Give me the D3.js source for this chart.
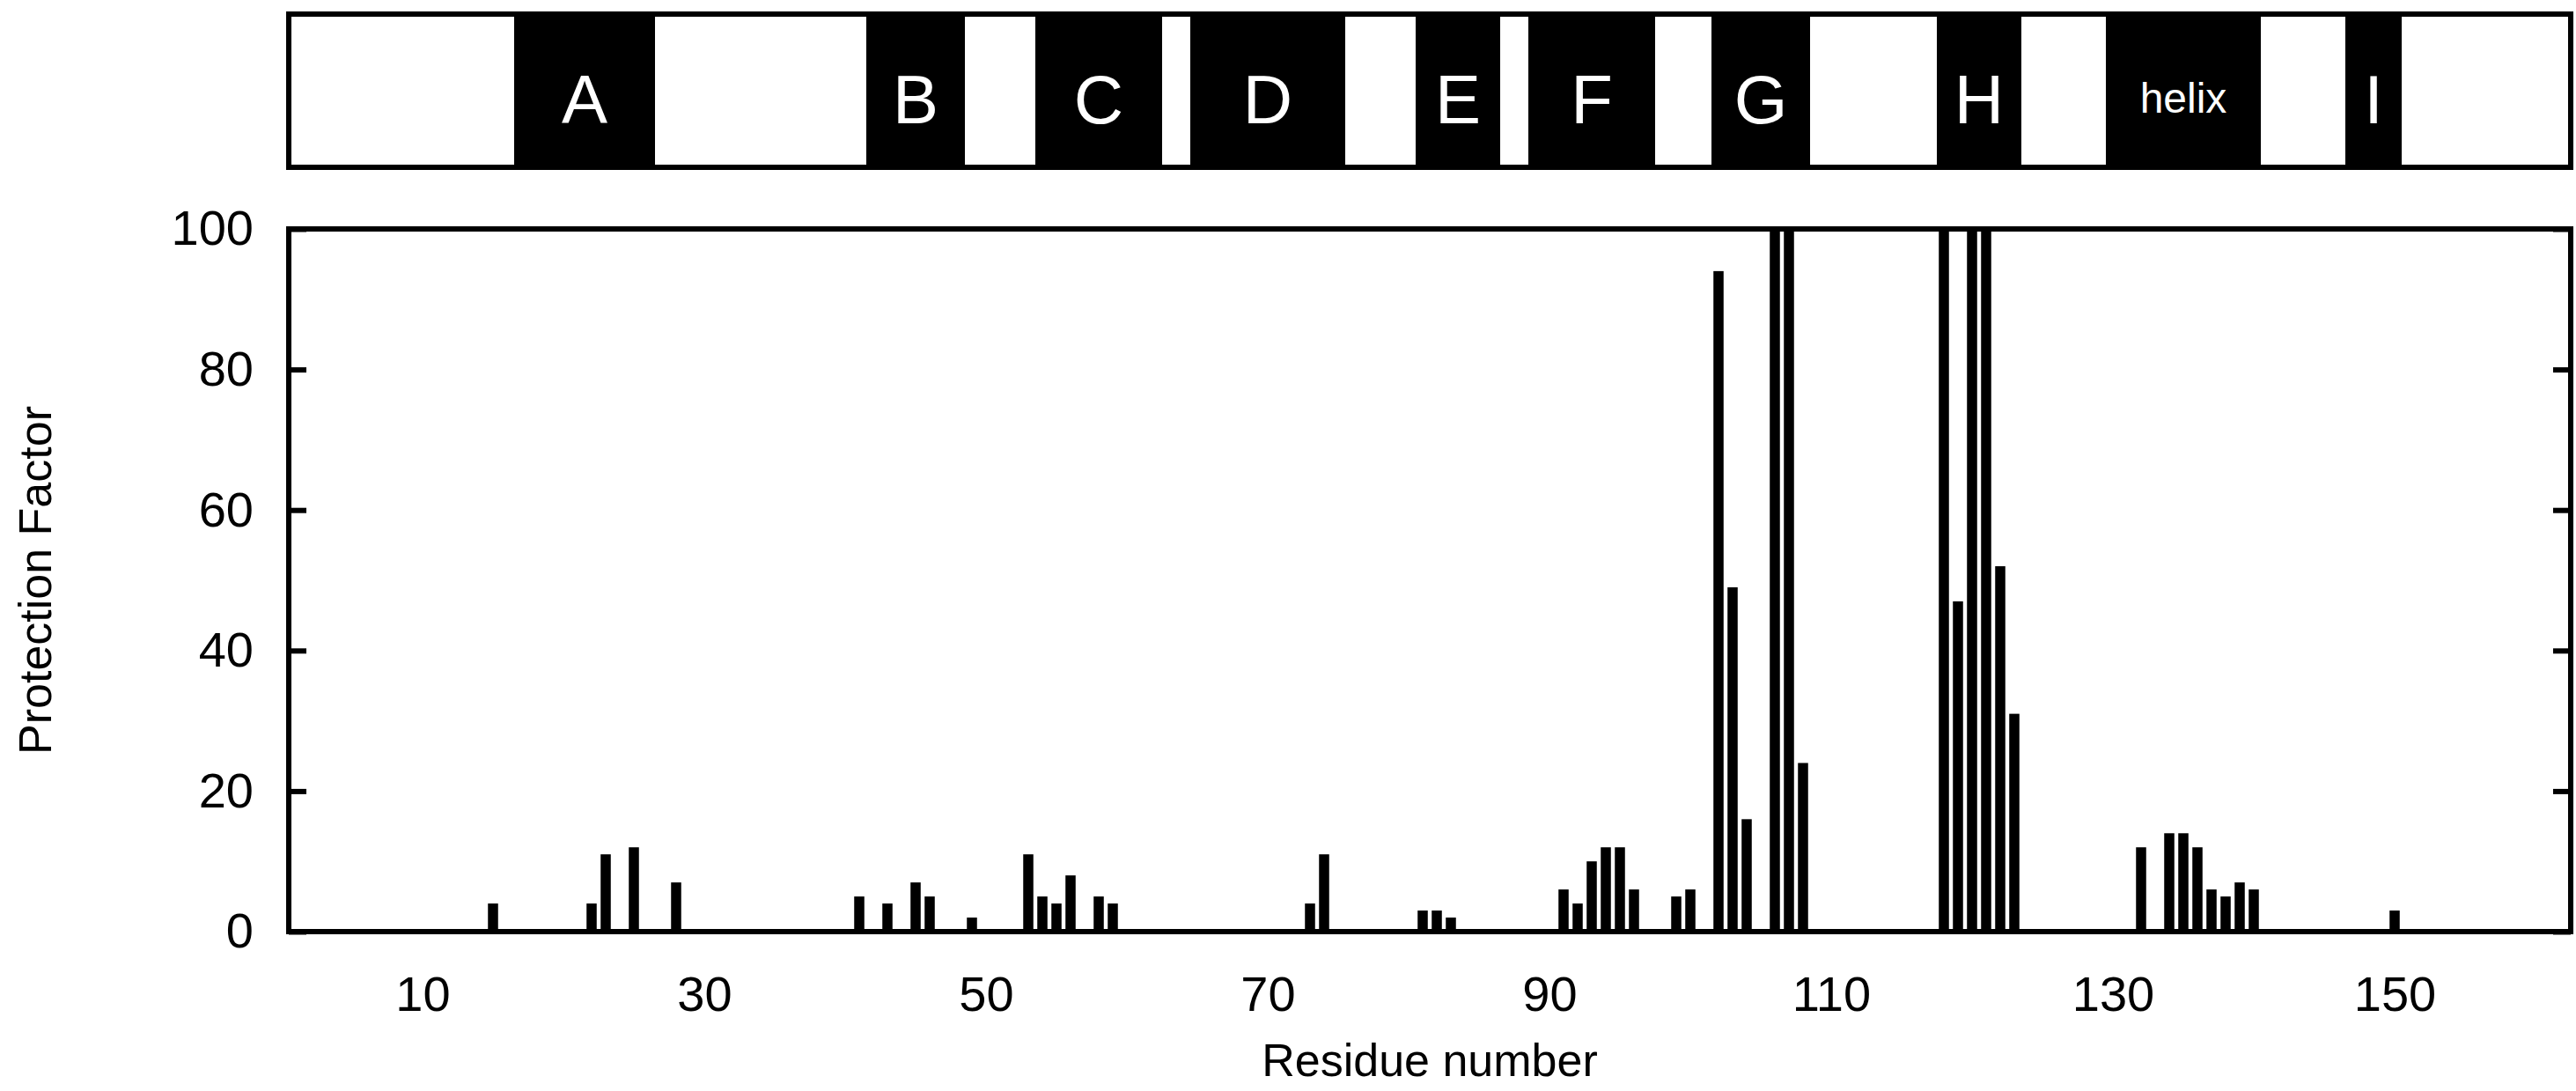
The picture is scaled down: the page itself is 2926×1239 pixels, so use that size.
<!DOCTYPE html>
<html><head><meta charset="utf-8">
<script src="https://cdn.jsdelivr.net/npm/d3@7/dist/d3.min.js"></script>
<style>body{margin:0;background:#fff}text{font-family:"Liberation Sans",Arial,sans-serif}</style>
</head><body><svg id="c" width="2926" height="1239"></svg>
<script>
const residues = [15,22,23,25,28,41,43,45,46,49,53,54,55,56,58,59,73,74,81,82,83,91,92,93,94,95,96,99,100,102,103,104,106,107,108,118,119,120,121,122,123,132,134,135,136,137,138,139,140,150];
const protection = [4,4,11,12,7,5,4,7,5,2,11,5,4,8,5,4,4,11,3,3,2,6,4,10,12,12,6,5,6,94,49,16,100,100,24,100,47,100,100,52,31,12,14,14,12,6,5,7,6,3];
const segLabels = ["A","B","C","D","E","F","G","H","helix","I"];
const segStart = [17,42,54,65,81,89,102,118,130,147];
const segEnd = [26,48,62,75,86,97,108,123,140,150];
const xTicks = [10,30,50,70,90,110,130,150];
const yTicks = [0,20,40,60,80,100];

const svg = d3.select("#c");
const L=328, R=2920, T=260, B=1058, sT=16, sB=190;
const x = d3.scaleLinear().domain([0.5,162.5]).range([L,R]);
const y = d3.scaleLinear().domain([0,100]).range([B,T]);
const bw = (x(1)-x(0))*0.72;

// top secondary structure panel
svg.append("rect").attr("x",L).attr("y",sT).attr("width",R-L).attr("height",sB-sT).attr("fill","#fff").attr("stroke","#000").attr("stroke-width",6);
segLabels.forEach((s,i)=>{
  const x0=x(segStart[i]-0.5), x1=x(segEnd[i]+0.5);
  svg.append("rect").attr("x",x0).attr("y",sT).attr("width",x1-x0).attr("height",sB-sT).attr("fill","#000");
  svg.append("text").attr("x",(x0+x1)/2).attr("y",s==="helix"?128:140).attr("text-anchor","middle")
    .attr("fill","#fff").attr("font-size",s==="helix"?48:78).text(s);
});

// bars
const g = svg.append("g");
g.append("defs").append("clipPath").attr("id","cp").append("rect").attr("x",L).attr("y",T).attr("width",R-L).attr("height",B-T);
g.append("g").attr("clip-path","url(#cp)").selectAll("rect").data(residues).join("rect")
  .attr("x",d=>x(d)-bw/2).attr("width",bw)
  .attr("y",(d,i)=>y(protection[i])).attr("height",(d,i)=>B-y(protection[i])).attr("fill","#000");

// frame
svg.append("rect").attr("x",L).attr("y",T).attr("width",R-L).attr("height",B-T).attr("fill","none").attr("stroke","#000").attr("stroke-width",6);

// y ticks both sides, inward
const ya = d3.axisLeft(y).tickValues(yTicks).tickSize(-20).tickPadding(40);
const yg = svg.append("g").attr("transform",`translate(${L},0)`).call(ya);
yg.select(".domain").remove();
yg.selectAll("line").attr("stroke-width",6);
yg.selectAll("text").attr("font-size",56).attr("fill","#000");
const yr = d3.axisRight(y).tickValues(yTicks).tickSize(-20).tickFormat("");
const yrg = svg.append("g").attr("transform",`translate(${R},0)`).call(yr);
yrg.select(".domain").remove();
yrg.selectAll("line").attr("stroke-width",6);

// x axis labels
const xa = d3.axisBottom(x).tickValues(xTicks).tickSize(0).tickPadding(50);
const xg = svg.append("g").attr("transform",`translate(0,${B})`).call(xa);
xg.select(".domain").remove();
xg.selectAll("text").attr("font-size",56).attr("fill","#000");

svg.append("text").attr("x",(L+R)/2).attr("y",1222).attr("text-anchor","middle").attr("font-size",52).text("Residue number");
svg.append("text").attr("transform",`translate(58,${(T+B)/2}) rotate(-90)`).attr("text-anchor","middle").attr("font-size",52).text("Protection Factor");
</script></body></html>
